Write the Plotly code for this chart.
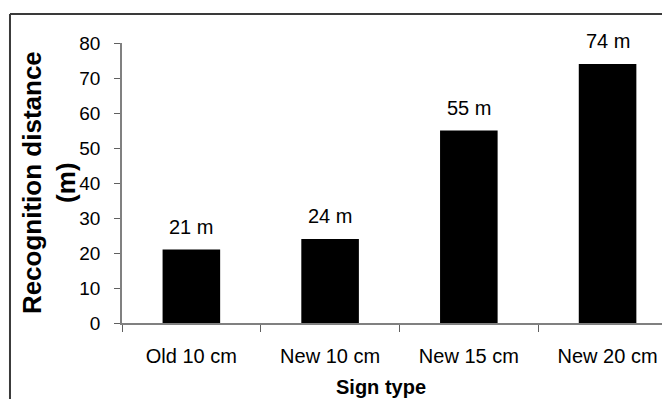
import plotly.graph_objects as go

categories = ["Old 10 cm", "New 10 cm", "New 15 cm", "New 20 cm"]
values = [21, 24, 55, 74]
value_labels = [f"{v} m" for v in values]
y_ticks = [0, 10, 20, 30, 40, 50, 60, 70, 80]

FONT = "Liberation Sans, Arial, sans-serif"

fig = go.Figure()
fig.add_trace(go.Bar(
    x=categories, y=values,
    marker=dict(color="black", line=dict(width=0)),
    width=0.415,
    hoverinfo="skip",
))

for c, v, t in zip(categories, values, value_labels):
    fig.add_annotation(x=c, y=v, text=t, showarrow=False, yanchor="bottom",
                       yshift=10, font=dict(family=FONT, size=20, color="black"))

# y-axis title
fig.add_annotation(xref="paper", yref="paper", x=-0.133, y=0.5,
                   text="<b>Recognition distance<br>(m)</b>", textangle=-90,
                   showarrow=False, xanchor="center", yanchor="middle",
                   font=dict(family=FONT, size=26, color="black"))
# x-axis title
fig.add_annotation(xref="paper", yref="paper", x=0.473, y=-0.23,
                   text="<b>Sign type</b>", showarrow=False,
                   xanchor="center", yanchor="middle",
                   font=dict(family=FONT, size=20, color="black"))

# outer chart frame (left and top edges visible)
fig.add_shape(type="line", xref="paper", yref="paper",
              x0=-0.2044, y0=-0.35, x1=-0.2044, y1=1.1036,
              line=dict(color="#3a3a3a", width=2))
fig.add_shape(type="line", xref="paper", yref="paper",
              x0=-0.2044, y0=1.1036, x1=1.05, y1=1.1036,
              line=dict(color="#3a3a3a", width=2))

# the page body adds an 8px margin, so the figure is 8px smaller
fig.update_layout(
    width=662, height=391,
    margin=dict(l=114, r=0, t=35, b=76),
    paper_bgcolor="white", plot_bgcolor="white",
    showlegend=False,
    font=dict(family=FONT, size=20, color="black"),
    xaxis=dict(
        range=[-0.5, 3.45], type="category",
        showline=True, linecolor="#808080", linewidth=1.5,
        ticks="outside", tickson="boundaries", ticklen=7, tickcolor="#606060",
        ticklabelstandoff=14,
        showgrid=False, tickfont=dict(family=FONT, size=20, color="black"),
    ),
    yaxis=dict(
        range=[0, 80], tickvals=y_ticks,
        showline=True, linecolor="#808080", linewidth=1.5,
        ticks="outside", ticklen=6, tickcolor="#606060",
        ticklabelstandoff=10,
        showgrid=False, zeroline=False,
        tickfont=dict(family=FONT, size=19, color="black"),
    ),
)

fig.write_html("out.html")
